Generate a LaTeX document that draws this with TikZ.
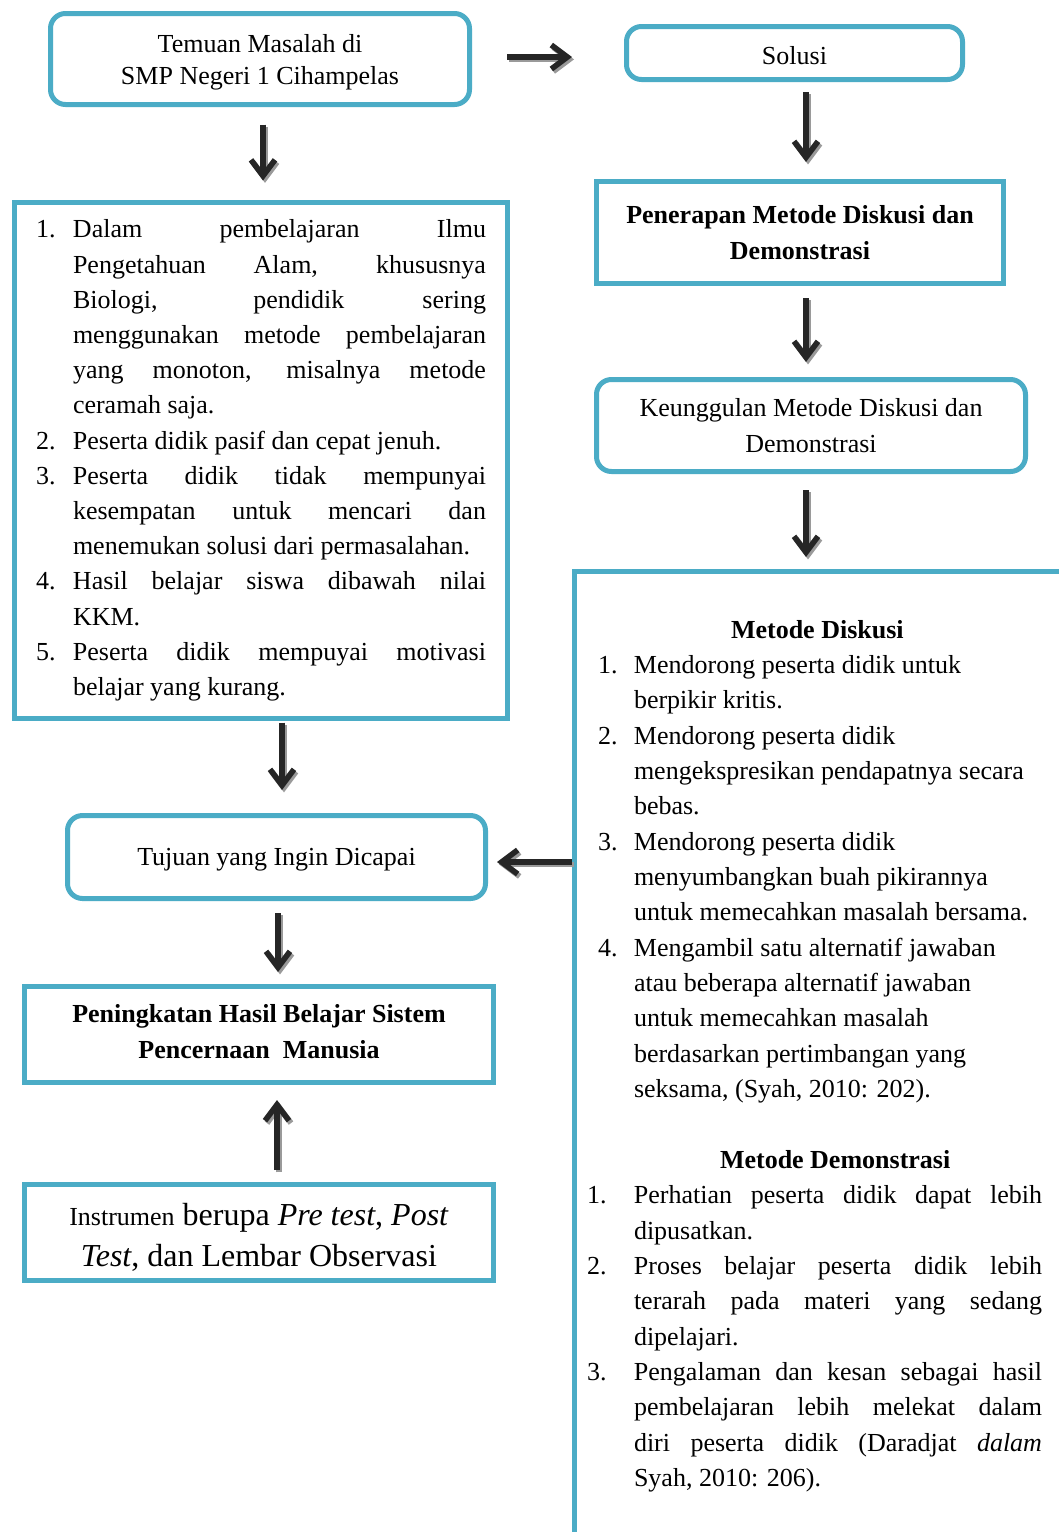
\documentclass[tikz,border=0pt]{standalone}
\usepackage{fontspec}
\setmainfont{Liberation Serif}
\usetikzlibrary{calc,arrows.meta}
\definecolor{bord}{HTML}{4BACC6}
\definecolor{arrc}{HTML}{262626}
\definecolor{shc}{HTML}{9A9A9A}
\tolerance=10000
\hyphenpenalty=10000
\exhyphenpenalty=10000
\hbadness=10000
\newcommand\itm[2]{\noindent\hangindent=#1\hangafter=1\makebox[#1][l]{#2}}
\newcommand\sarrow[2]{\draw[shadarr] #1 -- #2; \draw[arr] #1 -- #2;}
\begin{document}
\begin{tikzpicture}[x=0.5pt,y=-0.5pt,
  every node/.style={font=\fontsize{13pt}{17.6pt}\selectfont, inner sep=0pt, outer sep=0pt},
  rbox/.style={draw=bord, line width=2.5pt, rounded corners=7.5pt, align=center},
  sbox/.style={draw=bord, line width=2.5pt},
  arr/.style={draw=arrc, line width=2.8pt, -{Straight Barb[length=8pt,width=12pt]}},
  shadarr/.style={draw=shc, line width=2.8pt, -{Straight Barb[length=8pt,width=12pt]}, transform canvas={xshift=1pt,yshift=-1.2pt}},
]
\path[use as bounding box, fill=white] (0,0) rectangle (1059,1532);
\clip (0,0) rectangle (1059,1532);

\node[rbox, minimum width=209.5pt, minimum height=45.5pt, font=\fontsize{13pt}{16pt}\selectfont] (A) at (260,59) {\rule{0pt}{12pt}Temuan Masalah di\\SMP Negeri 1 Cihampelas};
\node[rbox, minimum width=168pt, minimum height=26.5pt] (S) at (794.5,53) {\rule{0pt}{12pt}Solusi};
\node[sbox, align=center, minimum width=203.5pt, minimum height=51pt, font=\bfseries\fontsize{13pt}{18pt}\selectfont] (P) at (800,232.5) {Penerapan Metode Diskusi dan\\Demonstrasi};
\node[rbox, minimum width=214.5pt, minimum height=46pt] (K) at (811,425.5) {Keunggulan Metode Diskusi dan\\Demonstrasi};

\node[sbox, align=justify, minimum width=246.5pt, minimum height=258pt, text width=225pt] (L) at (261,460.5) {%
\itm{18.5pt}{1.}Dalam pembelajaran Ilmu \linebreak Pengetahuan Alam, khususnya \linebreak Biologi, pendidik sering \linebreak menggunakan metode pembelajaran \linebreak yang monoton, misalnya metode \linebreak ceramah saja.\par
\itm{18.5pt}{2.}Peserta didik pasif dan cepat jenuh.\par
\itm{18.5pt}{3.}Peserta didik tidak mempunyai \linebreak kesempatan untuk mencari dan \linebreak menemukan solusi dari permasalahan.\par
\itm{18.5pt}{4.}Hasil belajar siswa dibawah nilai \linebreak KKM.\par
\itm{18.5pt}{5.}Peserta didik mempuyai motivasi \linebreak belajar yang kurang.\par};

\node[rbox, minimum width=209pt, minimum height=41.5pt] (Tj) at (276.5,857) {\rule{0pt}{11.5pt}Tujuan yang Ingin Dicapai};
\node[sbox, align=center, minimum width=234.5pt, minimum height=48pt, font=\bfseries\fontsize{13pt}{17.6pt}\selectfont] (Pn) at (259,1034.5) {Peningkatan Hasil Belajar Sistem\\Pencernaan\ \ Manusia\rule[-3pt]{0pt}{3pt}};
\node[sbox, align=center, minimum width=234.5pt, minimum height=48pt, font=\fontsize{16pt}{20.5pt}\selectfont] (In) at (259,1232.5) {\rule{0pt}{16pt}{\fontsize{13pt}{20.5pt}\selectfont Instrumen} berupa \textit{Pre test}, \textit{Post}\\\textit{Test}, dan Lembar Observasi};

\node[sbox, anchor=north west, minimum width=300pt, minimum height=520pt] (big) at (574.5,571) {};
\node[anchor=base west, align=justify, text width=227.5pt, font=\fontsize{13pt}{17.68pt}\selectfont] (T) at (587,638) {%
\hspace*{72pt}\textbf{Metode Diskusi}\par
\itm{23.5pt}{\hspace{5.5pt}1.}Mendorong peserta didik untuk\newline berpikir kritis.\par
\itm{23.5pt}{\hspace{5.5pt}2.}Mendorong peserta didik\newline mengekspresikan pendapatnya secara\newline bebas.\par
\itm{23.5pt}{\hspace{5.5pt}3.}Mendorong peserta didik\newline menyumbangkan buah pikirannya\newline untuk memecahkan masalah bersama.\par
\itm{23.5pt}{\hspace{5.5pt}4.}Mengambil satu alternatif jawaban\newline atau beberapa alternatif jawaban\newline untuk memecahkan masalah\newline berdasarkan pertimbangan yang\newline seksama, (Syah, 2010: 202).\par
\vspace{17.68pt}
\noindent\hspace*{66.5pt}\textbf{Metode Demonstrasi}\par
\itm{23.5pt}{1.}Perhatian peserta didik dapat lebih \linebreak dipusatkan.\par
\itm{23.5pt}{2.}Proses belajar peserta didik lebih \linebreak terarah pada materi yang sedang \linebreak dipelajari.\par
\itm{23.5pt}{3.}Pengalaman dan kesan sebagai hasil \linebreak pembelajaran lebih melekat dalam \linebreak diri peserta didik (Daradjat \textit{dalam} \linebreak Syah, 2010: 206).\par};

\sarrow{($(A.south)+(3,20)$)}{($(L.north)+(2,-22)$)}
\sarrow{($(A.east)+(37.5,-2)$)}{($(S.west)+(-54.5,4)$)}
\sarrow{($(S.south)+(11.5,12.5)$)}{($(P.north)+(6,-19.5)$)}
\sarrow{($(P.south)+(6,14.5)$)}{($(K.north)+(-5,-17.5)$)}
\sarrow{($(K.south)+(-5,18.5)$)}{($(big.north west)+(231.5,-14)$)}
\sarrow{($(L.south)+(21,4)$)}{($(Tj.north)+(5.5,-25.5)$)}
\sarrow{($(big.north west)+(-2.5,291)$)}{($(Tj.east)+(11.5,5)$)}
\sarrow{($(Tj.south)+(1.5,14.5)$)}{($(Pn.north)+(19,-14.5)$)}
\sarrow{($(In.north)+(18,-14.5)$)}{($(Pn.south)+(18,17.5)$)}
\end{tikzpicture}
\end{document}
